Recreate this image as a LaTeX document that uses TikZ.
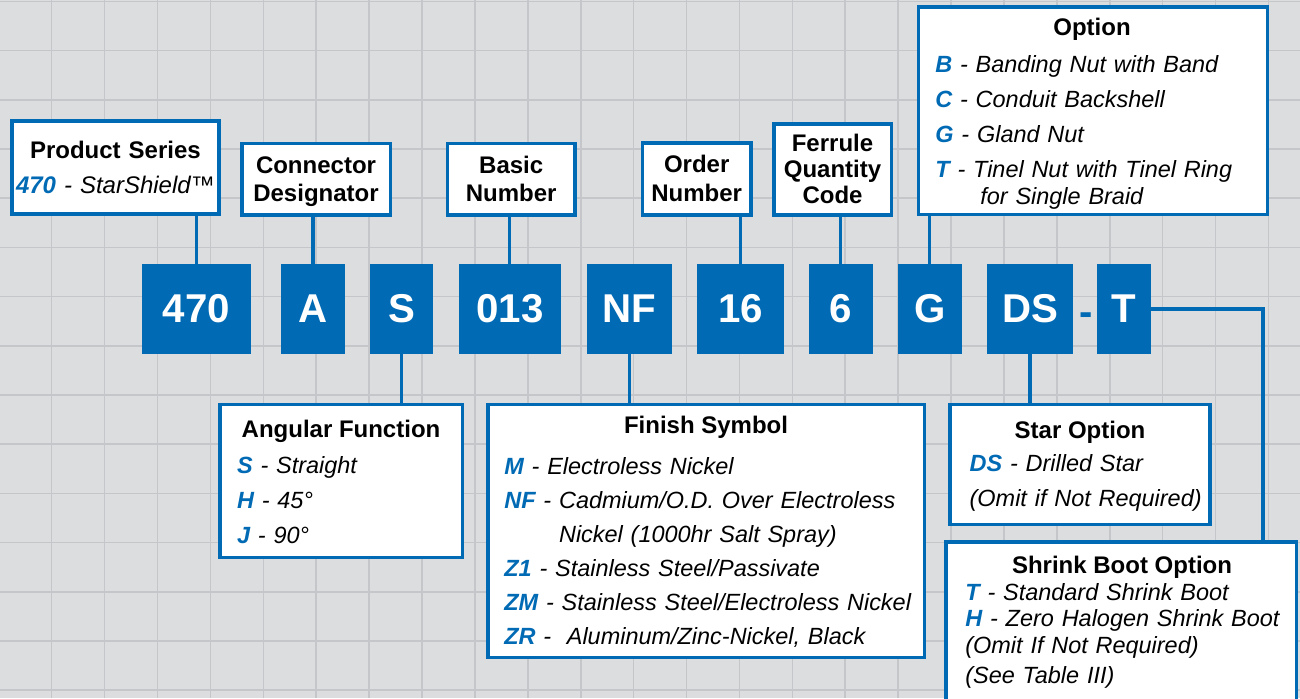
\documentclass[tikz,border=0pt]{standalone}
\usepackage{fontspec}
\setmainfont{Liberation Sans}
\usetikzlibrary{positioning}
\definecolor{codeblue}{HTML}{006AB4}
\definecolor{paper}{HTML}{DCDDDF}
\definecolor{gridgray}{HTML}{C5C6C9}
\newcommand{\kcode}[1]{\textcolor{codeblue}{\bfseries\itshape #1}}

\begin{document}
\begin{tikzpicture}[x=0.02cm, y=-0.02cm,
    boxsize/.style 2 args={minimum width=#1*0.02cm, minimum height=#2*0.02cm},
    codebox/.style={fill=codeblue, text=white, inner sep=0pt, font=\fontsize{22.9}{24}\selectfont\bfseries},
    infobox/.style={draw=codeblue, fill=white, line width=2pt, inner sep=0pt},
    link/.style={draw=codeblue, line width=1.8pt},
    headtext/.style={anchor=base, inner sep=0pt, font=\fontsize{13.66}{16}\selectfont\bfseries},
    titletext/.style={anchor=base, inner sep=0pt, align=center, text width=6cm, font=\fontsize{13.66}{#1}\selectfont\bfseries},
    itemtext/.style={anchor=base west, inner sep=0pt, align=left, text width=10cm, font=\fontsize{13.35}{#1}\selectfont\itshape},
    gridline/.style={draw=gridgray, line width=0.9pt}]

    \useasboundingbox (0,0) rectangle (1300,698);
    \clip (0,0) rectangle (1300,698);
    \fill[paper] (0,0) rectangle (1300,698);
    \foreach \k in {1,...,24} \draw[gridline] ({-1.2+52.9*\k},0) -- ++(0,698);
    \foreach \k in {0,...,14} \draw[gridline] (0,{1.4+49.2*\k}) -- ++(1300,0);

    % white boxes
    \node[infobox, boxsize={207.2}{93.2}] (prod) at (115.35,167.35) {};
    \node[infobox, boxsize={148.5}{71.5}] (conn) at (316,179.2) {};
    \node[infobox, boxsize={127.5}{71.5}] (basic) at (511.2,179.2) {};
    \node[infobox, boxsize={108.5}{72.2}] (order) at (696.7,178.85) {};
    \node[infobox, boxsize={117.5}{91.2}] (ferr) at (832.5,169.35) {};
    \node[infobox, boxsize={348.8}{207.5}] (opt) at (1092.85,110.5) {};
    \node[infobox, boxsize={242.5}{153.1}] (ang) at (341,481) {};
    \node[infobox, boxsize={436.5}{253.1}] (fin) at (706,531) {};
    \node[infobox, boxsize={260.2}{119.8}] (star) at (1079.85,464.35) {};
    \node[infobox, boxsize={350.5}{216.5}] (shrink) at (1121,650) {};

    % part number
    \node[codebox, boxsize={108.4}{90}] (c470) at (196.5,309) {470};
    \node[codebox, boxsize={64}{90}] (cA) at (313,309) {A};
    \node[codebox, boxsize={63.3}{90}] (cS) at (401.7,309) {S};
    \node[codebox, boxsize={102.3}{90}] (c013) at (509.9,309) {013};
    \node[codebox, boxsize={85.6}{90}] (cNF) at (629.5,309) {NF};
    \node[codebox, boxsize={86.4}{90}] (c16) at (740.5,309) {16};
    \node[codebox, boxsize={63.7}{90}] (c6) at (840.9,309) {6};
    \node[codebox, boxsize={64}{90}] (cG) at (929.7,309) {G};
    \node[codebox, boxsize={86}{90}] (cDS) at (1030,309) {DS};
    \node[codebox, boxsize={54}{90}] (cT) at (1124,309) {T};
    \node[anchor=base, inner sep=0pt, text=codeblue, font=\fontsize{22.76}{24}\selectfont\bfseries] (dash) at (1086,325) {-};

    % texts above
    \node[titletext=19.92] (prodT) at (115.4,158.3) {Product Series\\ \mdseries\itshape\kcode{470} - StarShield™};
    \node[titletext=16.16] (connT) at (316,173.3) {Connector\\Designator};
    \node[titletext=16.16] (basicT) at (511.2,173.3) {Basic\\Number};
    \node[titletext=16.16] (orderT) at (696.7,172.7) {Order\\Number};
    \node[titletext=14.63] (ferrT) at (832.5,151.7) {Ferrule\\Quantity\\Code};
    \node[headtext] (optT) at (1092,35) {Option};
    \node[itemtext=15.14] (optL) at (935,72.7) {\kcode{B} - Banding Nut with Band\\[4.8pt]
      \kcode{C} - Conduit Backshell\\[4.8pt]
      \kcode{G} - Gland Nut\\[4.8pt]
      \kcode{T} - Tinel Nut with Tinel Ring\\
      \hspace*{25.6pt}for Single Braid};

    % texts below
    \node[headtext] (angT) at (341,437.3) {Angular Function};
    \node[itemtext=19.92] (angL) at (236.7,473.3) {\kcode{S} - Straight\\ \kcode{H} - 45°\\ \kcode{J} - 90°};
    \node[headtext] (finT) at (706,433) {Finish Symbol};
    \node[itemtext=19.35] (finL) at (504,474) {\kcode{M} - Electroless Nickel\\
      \kcode{NF} - Cadmium/O.D. Over Electroless\\
      \phantom{\kcode{NF} - }Nickel (1000hr Salt Spray)\\
      \kcode{Z1} - Stainless Steel/Passivate\\
      \kcode{ZM} - Stainless Steel/Electroless Nickel\\
      \kcode{ZR} - \ Aluminum/Zinc-Nickel, Black};
    \node[headtext] (starT) at (1080,438.3) {Star Option};
    \node[itemtext=19.92] (starL) at (969.3,471.7) {\kcode{DS} - Drilled Star\\ (Omit if Not Required)};
    \node[headtext] (shrinkT) at (1122,573.3) {Shrink Boot Option};
    \node[itemtext=15.19] (shrinkL) at (965,600) {\kcode{T} - Standard Shrink Boot\\
      \kcode{H} - Zero Halogen Shrink Boot\\
      (Omit If Not Required)\\[1.9pt]
      (See Table III)};

    % connectors
    \draw[link] (c470.north) -- (c470.north |- prod.south);
    \draw[link] (cA.north) -- (cA.north |- conn.south);
    \draw[link] (c013.north) -- (c013.north |- basic.south);
    \draw[link] (c16.north) -- (c16.north |- order.south);
    \draw[link] (c6.north) -- (c6.north |- ferr.south);
    \draw[link] (cG.north) -- (cG.north |- opt.south);
    \draw[link] (cS.south) -- (cS.south |- ang.north);
    \draw[link] (cNF.south) -- (cNF.south |- fin.north);
    \draw[link] (cDS.south) -- (cDS.south |- star.north);
    \draw[link] (cT.east) -| ([xshift=2.84cm]shrink.north);
\end{tikzpicture}
\end{document}
